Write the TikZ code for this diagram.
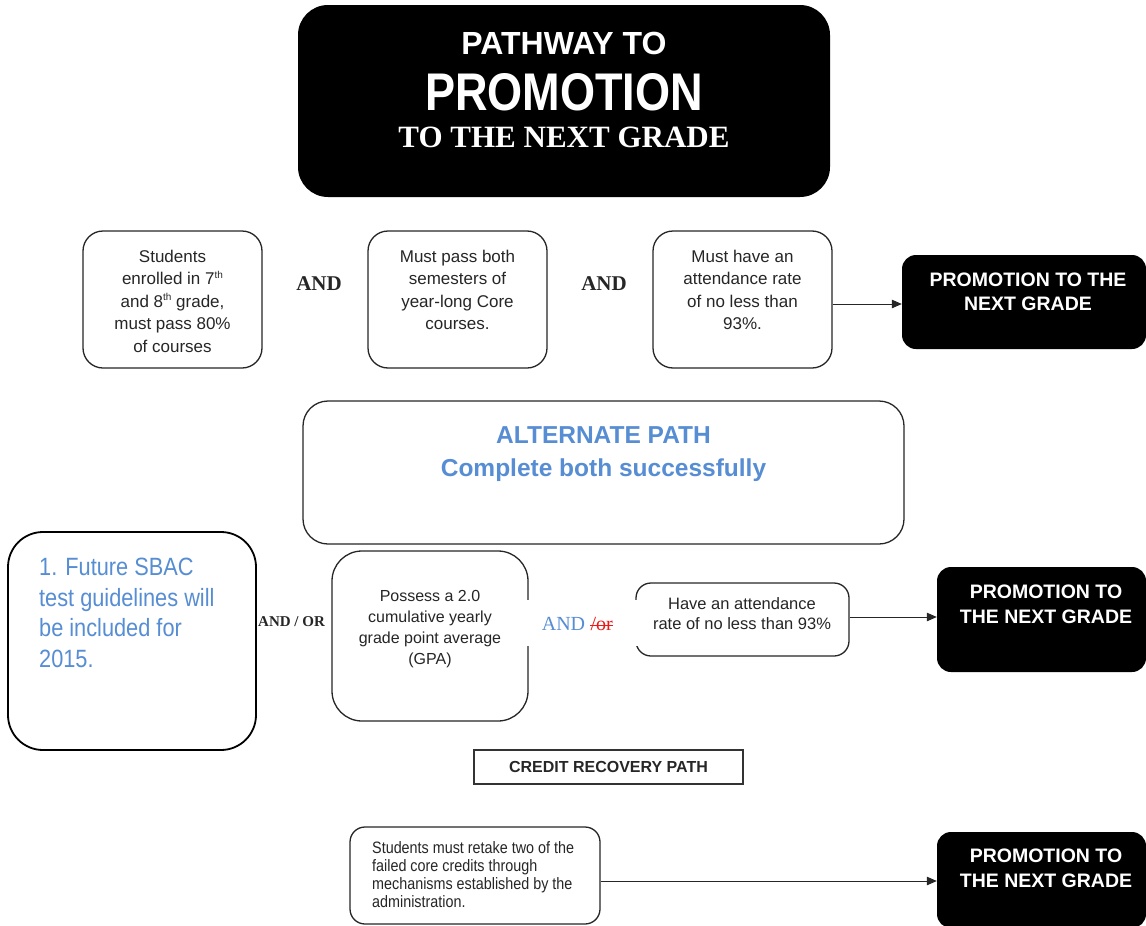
\documentclass[tikz,border=0pt]{standalone}
\usepackage{fontspec}
\setmainfont{Liberation Serif}
\setsansfont{Liberation Sans}
\newfontfamily\condsf[FakeStretch=0.85]{Liberation Sans}
\newfontfamily\notesf[FakeStretch=0.87]{Liberation Sans}
\newfontfamily\narrowsf[FakeStretch=0.87]{Liberation Sans}
\usetikzlibrary{arrows.meta}
\definecolor{alt}{RGB}{86,141,211}
\definecolor{strikered}{RGB}{235,25,25}
\newcommand{\ordsup}[1]{\raisebox{0.7ex}{\fontsize{10}{10}\selectfont #1}}
\begin{document}
\begin{tikzpicture}[x=1pt,y=-1pt,
  wbox/.style={draw=black!85,line width=1.3pt,rounded corners=20pt,fill=white,inner sep=0pt},
  bbox/.style={fill=black,rounded corners=14pt,inner sep=0pt},
  body/.style={font=\sffamily\fontsize{17}{22.5}\selectfont,align=center,text=black!85,inner sep=0pt},
  ptext/.style={font=\sffamily\bfseries\fontsize{19.5}{24.5}\selectfont,align=center,text=white,inner sep=0pt},
  andlbl/.style={font=\rmfamily\bfseries\fontsize{21}{24}\selectfont,inner sep=0pt,text=black!85},
  conn/.style={-{Triangle[length=10pt,width=8.5pt]},line width=1pt,draw=black!85}
]
\useasboundingbox (0,0) rectangle (1146,926);

% title
\node[bbox,rounded corners=30pt,minimum width=532pt,minimum height=192pt] (title) at (564,101) {};
\node[text=white,inner sep=0pt,font=\sffamily\bfseries\fontsize{32}{32}\selectfont] (t1) at (564,43) {PATHWAY TO};
\node[text=white,inner sep=0pt,font=\condsf\bfseries\fontsize{53}{53}\selectfont] (t2) at (564,92) {PROMOTION};
\node[text=white,inner sep=0pt,font=\rmfamily\bfseries\fontsize{31}{31}\selectfont] (t3) at (564,137) {TO THE NEXT GRADE};

% row 1
\node[wbox,minimum width=179pt,minimum height=137pt] (b1) at (172.5,299.5) {};
\node[body] (b1t) at (172.5,301) {Students\\enrolled in 7\ordsup{th}\\and 8\ordsup{th} grade,\\must pass 80\%\\of courses};
\node[wbox,minimum width=179pt,minimum height=137pt] (b2) at (457.5,299.5) {};
\node[body] (b2t) at (457.5,290) {Must pass both\\semesters of\\year-long Core\\courses.};
\node[wbox,minimum width=179pt,minimum height=137pt] (b3) at (742.5,299.5) {};
\node[body] (b3t) at (742.5,290) {Must have an\\attendance rate\\of no less than\\93\%.};
\node[andlbl] (and1) at (319,284) {AND};
\node[andlbl] (and2) at (604,284) {AND};
\node[bbox,minimum width=244pt,minimum height=94pt] (p1) at (1024,302) {};
\node[ptext] (p1t) at (1028,292) {PROMOTION TO THE\\NEXT GRADE};
\coordinate (a1) at ([yshift=-4.5pt]b3.east);
\draw[conn] (a1) -- (a1 -| p1.west);

% alternate path
\node[wbox,rounded corners=25pt,minimum width=601pt,minimum height=143pt] (alt) at (603.5,472.5) {};
\node[font=\sffamily\bfseries\fontsize{24.5}{33}\selectfont,text=alt,align=center,inner sep=0pt] (altt) at (603.5,454) {ALTERNATE PATH\\Complete both successfully};

% note
\node[wbox,draw=black,line width=1.8pt,rounded corners=35pt,minimum width=248pt,minimum height=218pt] (note) at (132,641) {};
\node[font=\notesf\fontsize{25}{30.5}\selectfont,text=alt,align=left,inner sep=0pt,anchor=north west] (notet) at (39,558) {1. Future SBAC\\test guidelines will\\be included for\\2015.};
\node[font=\rmfamily\bfseries\fontsize{15}{18}\selectfont,inner sep=0pt,text=black!85] (andor) at (291.5,622) {AND / OR};

% row 2
\node[wbox,rounded corners=30pt,minimum width=196pt,minimum height=170pt] (gpa) at (430,636) {};
\node[body,font=\sffamily\fontsize{16}{21}\selectfont] (gpat) at (430,629.5) {Possess a 2.0\\cumulative yearly\\grade point average\\(GPA)};
\node[wbox,rounded corners=15pt,minimum width=213pt,minimum height=73pt] (att) at (742.5,619.5) {};
\node[body,font=\sffamily\fontsize{16.5}{20}\selectfont] (attt) at (742,614) {Have an attendance\\rate of no less than 93\%};
\fill[white] (525,600) rectangle (641,646);
\node[font=\rmfamily\fontsize{20}{24}\selectfont,text=alt,inner sep=0pt] (andw) at (563.5,624) {AND};
\node[font=\rmfamily\fontsize{20}{24}\selectfont,text=strikered,inner sep=0pt,anchor=base west] (orw) at ([xshift=5pt]andw.base east) {/or};
\draw[strikered,line width=1.3pt] ([yshift=5pt]orw.base west) -- ([yshift=5pt]orw.base east);
\node[bbox,minimum width=209pt,minimum height=105pt] (p2) at (1041.5,619.5) {};
\node[ptext] (p2t) at (1046,604.5) {PROMOTION TO\\THE NEXT GRADE};
\coordinate (a2) at ([yshift=2.5pt]att.east);
\draw[conn] (a2) -- (a2 -| p2.west);

% credit recovery
\node[draw=black!80,line width=1.6pt,minimum width=269pt,minimum height=34pt,inner sep=0pt,font=\sffamily\bfseries\fontsize{16}{18}\selectfont,text=black!85] (cr) at (608.5,767) {CREDIT RECOVERY PATH};
\node[wbox,rounded corners=15pt,minimum width=250pt,minimum height=97pt] (ret) at (475,875.5) {};
\node[font=\narrowsf\fontsize{16.5}{18}\selectfont,text=black!85,align=left,inner sep=0pt,anchor=north west] (rett) at (372,841) {Students must retake two of the\\failed core credits through\\mechanisms established by the\\administration.};
\node[bbox,minimum width=209pt,minimum height=96pt] (p3) at (1041.5,880) {};
\node[ptext] (p3t) at (1046,868.5) {PROMOTION TO\\THE NEXT GRADE};
\coordinate (a3) at ([yshift=-5.5pt]ret.east);
\draw[conn] (a3) -- (a3 -| p3.west);
\end{tikzpicture}
\end{document}
